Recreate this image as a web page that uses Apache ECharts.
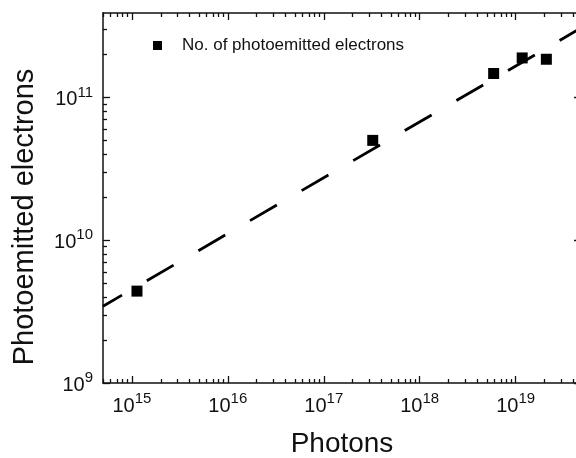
<!DOCTYPE html>
<html>
<head>
<meta charset="utf-8">
<script src="https://cdn.jsdelivr.net/npm/echarts@6/dist/echarts.min.js"></script>
<style>
html,body{margin:0;padding:0;background:#fff;}
#chart{width:576px;height:458px;}
</style>
</head>
<body>
<div id="chart"></div>
<script>
// ---- data ----
const photons = [1.13e15, 3.24e17, 5.9e18, 1.17e19, 2.09e19];
const electrons = [4.4e9, 5.0e10, 1.47e11, 1.89e11, 1.85e11];
const fitPhotons = [5e14, 4.8e19];
const fitElectrons = [3.45e9, 3.06e11];
const xMajorTicks = [1e15, 1e16, 1e17, 1e18, 1e19];
const yMajorTicks = [1e9, 1e10, 1e11];
const xRange = [5e14, 4.8e19];
const yRange = [1e9, 3.9e11];
const seriesName = 'No. of photoemitted electrons';
const xTitle = 'Photons';
const yTitle = 'Photoemitted electrons';

// minor ticks: 2..9 times each decade, inside the axis range
function minorTicks(range) {
  const out = [];
  const lo = Math.floor(Math.log10(range[0])), hi = Math.ceil(Math.log10(range[1]));
  for (let e = lo; e < hi; e++) {
    for (let m = 2; m <= 9; m++) {
      const v = m * Math.pow(10, e);
      if (v >= range[0] && v <= range[1]) out.push(v);
    }
  }
  return out;
}
const xMinorTicks = minorTicks(xRange);
const yMinorTicks = minorTicks(yRange);

const FONT = '"Liberation Sans", Arial, sans-serif';
const INK = '#111';

function supLabel(v) {
  return '{b|10}{s|' + Math.round(Math.log10(v)) + '}';
}
const rich = {
  b: {fontSize: 20, fontFamily: FONT, color: INK, verticalAlign: 'bottom'},
  s: {fontSize: 15, fontFamily: FONT, color: INK, padding: [0, 0, 10, 0], verticalAlign: 'bottom'}
};

function axisBase(range) {
  return {
    type: 'log', logBase: 10, min: range[0], max: range[1],
    splitLine: {show: false}, minorTick: {show: false}
  };
}
function tickAxis(pos, range, values, len, withLine) {
  const a = axisBase(range);
  a.position = pos;
  a.axisLine = {show: withLine, onZero: false, lineStyle: {color: INK, width: 1.5}};
  a.axisTick = {show: true, inside: true, length: len, customValues: values, lineStyle: {color: INK, width: 1.3}};
  a.axisLabel = {show: false};
  return a;
}

const xMain = axisBase(xRange);
xMain.position = 'bottom';
xMain.axisLine = {show: true, onZero: false, lineStyle: {color: INK, width: 1.5}};
xMain.axisTick = {show: true, inside: true, length: 7, customValues: xMajorTicks, lineStyle: {color: INK, width: 1.3}};
xMain.axisLabel = {show: true, customValues: xMajorTicks, margin: 8, formatter: supLabel, rich: rich};
xMain.name = xTitle;
xMain.nameLocation = 'middle';
xMain.nameGap = 47;
xMain.nameTextStyle = {fontSize: 28, fontFamily: FONT, color: INK};

const yMain = axisBase(yRange);
yMain.position = 'left';
yMain.axisLine = {show: true, onZero: false, lineStyle: {color: INK, width: 1.5}};
yMain.axisTick = {show: true, inside: true, length: 7, customValues: yMajorTicks, lineStyle: {color: INK, width: 1.3}};
yMain.axisLabel = {show: true, customValues: yMajorTicks, margin: 10, formatter: supLabel, rich: rich};
yMain.name = yTitle;
yMain.nameLocation = 'middle';
yMain.nameGap = 64;
yMain.nameTextStyle = {fontSize: 29, fontFamily: FONT, color: INK, padding: [0, 38, 0, 0]};

const option = {
  backgroundColor: '#fff',
  animation: false,
  textStyle: {fontFamily: FONT},
  grid: {left: 103, top: 13, right: -5, bottom: 75, containLabel: false, outerBoundsMode: 'none'},
  legend: {
    data: [seriesName], left: 153, top: 37, padding: 0,
    itemWidth: 9, itemHeight: 9, icon: 'rect',
    itemStyle: {color: '#000', opacity: 1},
    textStyle: {fontSize: 17, fontFamily: FONT, color: INK, padding: [0, 0, 0, 15]}
  },
  xAxis: [
    xMain,
    tickAxis('bottom', xRange, xMinorTicks, 4, false),
    tickAxis('top', xRange, xMajorTicks, 7, true),
    tickAxis('top', xRange, xMinorTicks, 4, false)
  ],
  yAxis: [
    yMain,
    tickAxis('left', yRange, yMinorTicks, 4, false),
    tickAxis('right', yRange, yMajorTicks, 7, true),
    tickAxis('right', yRange, yMinorTicks, 4, false)
  ],
  series: [
    {
      name: 'fit', type: 'line', xAxisIndex: 0, yAxisIndex: 0,
      data: fitPhotons.map((x, i) => [x, fitElectrons[i]]),
      showSymbol: false, symbol: 'none', silent: true,
      lineStyle: {color: '#000', width: 2.8, type: [31, 28.7], dashOffset: 9, cap: 'butt'},
      z: 2
    },
    {
      name: seriesName, type: 'scatter', xAxisIndex: 0, yAxisIndex: 0,
      data: photons.map((x, i) => [x, electrons[i]]),
      symbol: 'rect', symbolSize: 11,
      itemStyle: {color: '#000', opacity: 1},
      z: 3
    }
  ]
};
const chart = echarts.init(document.getElementById('chart'), null, {renderer: 'canvas'});
chart.setOption(option);
</script>
</body>
</html>
